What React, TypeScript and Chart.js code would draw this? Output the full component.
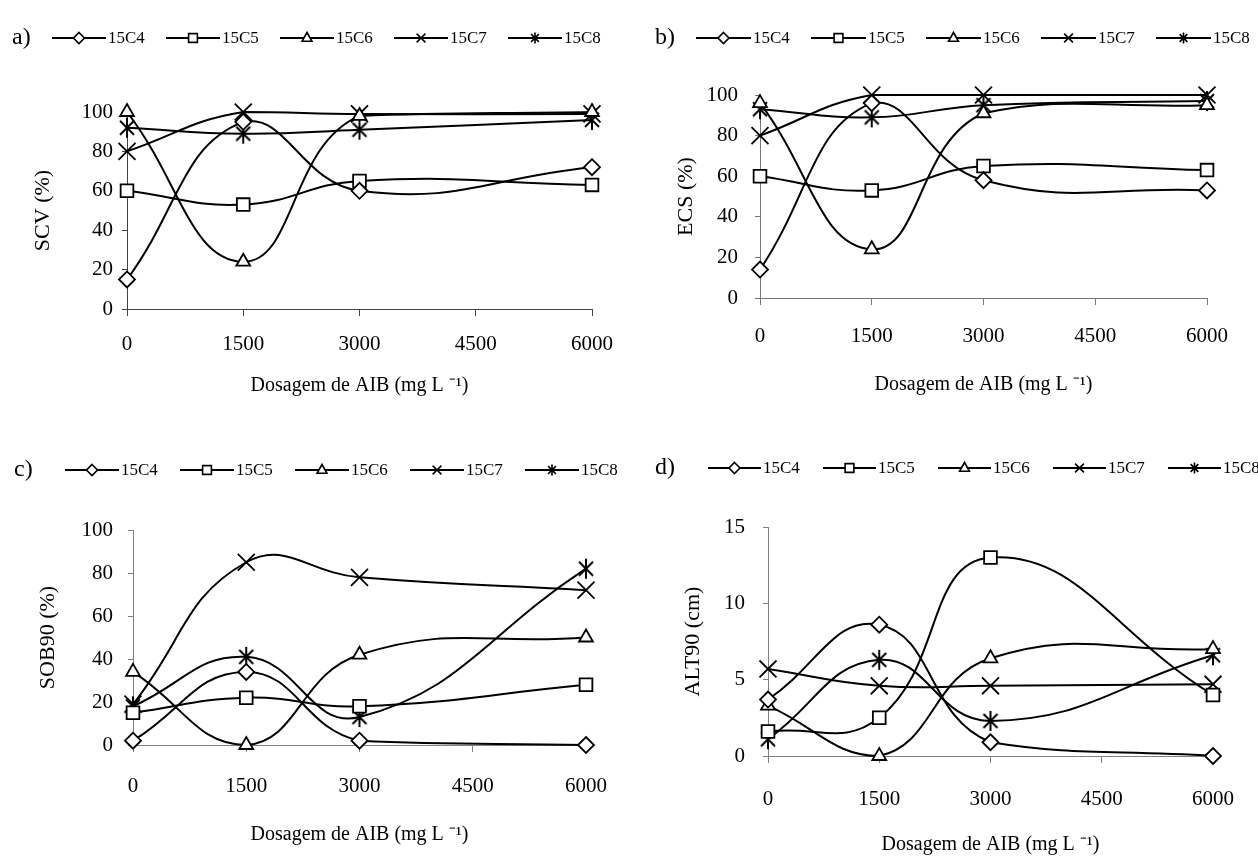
import React, { useEffect, useRef } from 'react';
import { Chart, registerables } from 'chart.js';

Chart.register(...registerables);

// ---------------- DATA ----------------
const doses = [0, 1500, 3000, 6000];
const seriesNames = ['15C4', '15C5', '15C6', '15C7', '15C8'];
const xAxisTitle = 'Dosagem de AIB (mg L \u207B\u00B9)';

// a) SCV (%)
const scv15C4 = [15, 95, 60, 72];
const scv15C5 = [60, 53, 65, 63];
const scv15C6 = [100, 24, 98, 100];
const scv15C7 = [80, 100, 99, 99];
const scv15C8 = [92, 89, 91, 96];

// b) ECS (%)
const ecs15C4 = [14, 96, 58, 53];
const ecs15C5 = [60, 53, 65, 63];
const ecs15C6 = [96, 24, 91, 95];
const ecs15C7 = [80, 100, 100, 100];
const ecs15C8 = [93, 89, 95, 97];

// c) SOB90 (%)
const sob15C4 = [2, 34, 2, 0];
const sob15C5 = [15, 22, 18, 28];
const sob15C6 = [34, 0, 42, 50];
const sob15C7 = [19, 85, 78, 72];
const sob15C8 = [18, 41, 13, 82];

// d) ALT90 (cm)
const alt15C4 = [3.7, 8.6, 0.9, 0];
const alt15C5 = [1.6, 2.5, 13.0, 4.0];
const alt15C6 = [3.3, 0, 6.4, 7.0];
const alt15C7 = [5.7, 4.6, 4.6, 4.7];
const alt15C8 = [1.1, 6.3, 2.3, 6.6];

// ---------------- STYLE / LAYOUT ----------------
const FONT = "'Liberation Serif', 'Times New Roman', serif";
const markerKinds = ['diamond', 'square', 'triangle', 'x', 'star'];

type Panel = {
  label: string;
  yTitle: string;
  yMax: number;
  yStep: number;
  series: number[][];
  left: number; top: number; width: number; height: number;
  plotL: number; plotR: number; plotT: number; plotB: number;
  xTickPad: number; yTickPad: number; xTitlePad: number; yTitlePad: number;
  axisColor: string;
  legend: { labelX: number; startX: number; stride: number; lineLen: number; y: number };
};

const panels: Panel[] = [
  {
    label: 'a)', yTitle: 'SCV (%)', yMax: 100, yStep: 20,
    series: [scv15C4, scv15C5, scv15C6, scv15C7, scv15C8],
    left: 0, top: 0, width: 629, height: 430,
    plotL: 127, plotR: 593, plotT: 112, plotB: 309,
    xTickPad: 16, yTickPad: 9, xTitlePad: 32, yTitlePad: 30,
    axisColor: '#444',
    legend: { labelX: 12, startX: 52, stride: 114, lineLen: 54, y: 38 },
  },
  {
    label: 'b)', yTitle: 'ECS (%)', yMax: 100, yStep: 20,
    series: [ecs15C4, ecs15C5, ecs15C6, ecs15C7, ecs15C8],
    left: 629, top: 0, width: 629, height: 430,
    plotL: 131, plotR: 578, plotT: 95, plotB: 298,
    xTickPad: 19, yTickPad: 17, xTitlePad: 33, yTitlePad: 44,
    axisColor: '#777',
    legend: { labelX: 26, startX: 67, stride: 115, lineLen: 55, y: 38 },
  },
  {
    label: 'c)', yTitle: 'SOB90 (%)', yMax: 100, yStep: 20,
    series: [sob15C4, sob15C5, sob15C6, sob15C7, sob15C8],
    left: 0, top: 430, width: 629, height: 431,
    plotL: 133, plotR: 589, plotT: 100, plotB: 315,
    xTickPad: 22, yTickPad: 15, xTitlePad: 14, yTitlePad: 35,
    axisColor: '#808080',
    legend: { labelX: 14, startX: 65, stride: 115, lineLen: 54, y: 40 },
  },
  {
    label: 'd)', yTitle: 'ALT90 (cm)', yMax: 15, yStep: 5,
    series: [alt15C4, alt15C5, alt15C6, alt15C7, alt15C8],
    left: 629, top: 430, width: 629, height: 431,
    plotL: 139, plotR: 594, plotT: 97, plotB: 326,
    xTickPad: 24, yTickPad: 18, xTitlePad: 4, yTitlePad: 51,
    axisColor: '#808080',
    legend: { labelX: 26, startX: 79, stride: 115, lineLen: 53, y: 38 },
  },
];

function drawMarker(ctx: CanvasRenderingContext2D, kind: string, x: number, y: number, s: number) {
  ctx.beginPath();
  if (kind === 'diamond') {
    ctx.moveTo(x, y - s); ctx.lineTo(x + s, y); ctx.lineTo(x, y + s); ctx.lineTo(x - s, y); ctx.closePath();
    ctx.fill(); ctx.stroke();
  } else if (kind === 'square') {
    ctx.rect(x - s * 0.8, y - s * 0.8, s * 1.6, s * 1.6);
    ctx.fill(); ctx.stroke();
  } else if (kind === 'triangle') {
    ctx.moveTo(x, y - s); ctx.lineTo(x + s * 0.9, y + s * 0.6); ctx.lineTo(x - s * 0.9, y + s * 0.6); ctx.closePath();
    ctx.fill(); ctx.stroke();
  } else if (kind === 'x') {
    const d = s * 0.8;
    ctx.moveTo(x - d, y - d); ctx.lineTo(x + d, y + d);
    ctx.moveTo(x + d, y - d); ctx.lineTo(x - d, y + d);
    ctx.stroke();
  } else {
    const d = s * 0.7;
    ctx.moveTo(x, y - s); ctx.lineTo(x, y + s);
    ctx.moveTo(x - d, y - d); ctx.lineTo(x + d, y + d);
    ctx.moveTo(x + d, y - d); ctx.lineTo(x - d, y + d);
    ctx.stroke();
  }
}

const panelLegend = {
  id: 'panelLegend',
  afterDraw(chart: any, _args: any, opts: any) {
    const ctx: CanvasRenderingContext2D = chart.ctx;
    ctx.save();
    ctx.fillStyle = '#000';
    ctx.textBaseline = 'middle';
    ctx.textAlign = 'left';
    ctx.font = `24px ${FONT}`;
    ctx.fillText(opts.label, opts.labelX, opts.y);
    ctx.font = `17px ${FONT}`;
    seriesNames.forEach((name, i) => {
      const x0 = opts.startX + i * opts.stride;
      ctx.strokeStyle = '#000';
      ctx.lineWidth = 2;
      ctx.beginPath();
      ctx.moveTo(x0, opts.y);
      ctx.lineTo(x0 + opts.lineLen, opts.y);
      ctx.stroke();
      ctx.fillStyle = '#fff';
      ctx.lineWidth = 1.6;
      drawMarker(ctx, markerKinds[i], x0 + opts.lineLen / 2, opts.y, 5.5);
      ctx.fillStyle = '#000';
      ctx.fillText(name, x0 + opts.lineLen + 2, opts.y + 1);
    });
    ctx.restore();
  },
};

function makeStar(size: number): HTMLCanvasElement {
  const c = document.createElement('canvas');
  c.width = size; c.height = size;
  const g = c.getContext('2d')!;
  const m = size / 2;
  g.strokeStyle = '#000';
  g.lineWidth = 2;
  drawMarker(g, 'star', m, m, m - 1);
  return c;
}

export default function App() {
  const refs = useRef<(HTMLCanvasElement | null)[]>([]);

  useEffect(() => {
    const star = makeStar(22);
    const styles: any[] = ['rectRot', 'rect', 'triangle', 'crossRot', star];
    const radii = [8, 9, 8, 12, 11];
    const charts: Chart[] = [];
    panels.forEach((p, pi) => {
      const canvas = refs.current[pi];
      if (!canvas) return;
      const tickFont = { family: FONT, size: 21 };
      const xTitleFont = { family: FONT, size: 20 };
      const yTitleFont = { family: FONT, size: 22 };
      const chart = new Chart(canvas, {
        type: 'line',
        data: {
          datasets: p.series.map((vals, si) => ({
            label: seriesNames[si],
            data: doses.map((d, k) => ({ x: d, y: vals[k] })),
            borderColor: '#000',
            borderWidth: 2,
            tension: 0.45,
            fill: false,
            clip: false as any,
            pointStyle: styles[si],
            pointRadius: radii[si],
            pointBackgroundColor: '#fff',
            pointBorderColor: '#000',
            pointBorderWidth: 1.8,
          })),
        },
        options: {
          responsive: false,
          animation: false,
          devicePixelRatio: 1,
          layout: { padding: { left: 0, top: p.plotT, right: p.width - p.plotR, bottom: 0 } },
          plugins: {
            legend: { display: false },
            tooltip: { enabled: false },
            panelLegend: { label: p.label, ...p.legend },
          } as any,
          scales: {
            x: {
              type: 'linear',
              min: 0,
              max: 6000,
              ticks: {
                stepSize: 1500,
                autoSkip: false,
                maxRotation: 0,
                padding: p.xTickPad,
                color: '#000',
                font: tickFont,
                callback: (v: any) => String(v),
              },
              grid: { display: true, drawOnChartArea: false, drawTicks: true, tickLength: 7, color: p.axisColor, lineWidth: 1 },
              border: { display: true, color: p.axisColor, width: 1 },
              title: { display: true, text: xAxisTitle, color: '#000', font: xTitleFont, padding: { top: 0, bottom: p.xTitlePad } },
              afterFit: (s: any) => { s.height = p.height - p.plotB; },
            },
            y: {
              type: 'linear',
              min: 0,
              max: p.yMax,
              ticks: {
                stepSize: p.yStep,
                padding: p.yTickPad,
                color: '#000',
                font: tickFont,
                callback: (v: any) => String(v),
              },
              grid: { display: true, drawOnChartArea: false, drawTicks: true, tickLength: 5, color: p.axisColor, lineWidth: 1 },
              border: { display: true, color: p.axisColor, width: 1 },
              title: { display: true, text: p.yTitle, color: '#000', font: yTitleFont, padding: { top: p.yTitlePad, bottom: 0 } },
              afterFit: (s: any) => { s.width = p.plotL; },
            },
          },
        },
        plugins: [panelLegend as any],
      });
      charts.push(chart);
    });
    return () => charts.forEach((c) => c.destroy());
  }, []);

  return (
    <div style={{ position: 'absolute', left: 0, top: 0, width: 1258, height: 861, background: '#fff' }}>
      {panels.map((p, i) => (
        <canvas
          key={p.label}
          ref={(el) => { refs.current[i] = el; }}
          width={p.width}
          height={p.height}
          style={{ position: 'absolute', left: p.left, top: p.top, width: p.width, height: p.height }}
        />
      ))}
    </div>
  );
}
